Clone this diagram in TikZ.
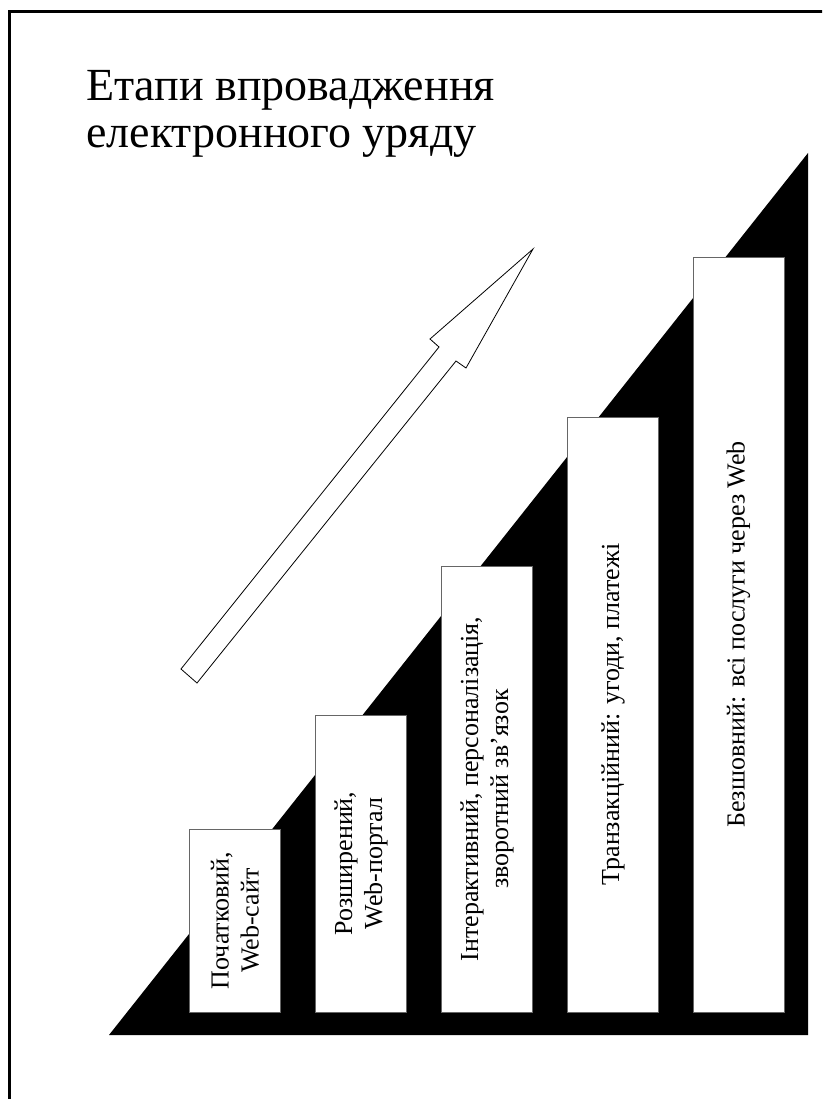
\documentclass[tikz,border=0pt]{standalone}
\usepackage{fontspec}
\setmainfont{Liberation Serif}
\begin{document}
\begin{tikzpicture}[x=1pt,y=-1pt,
  stage/.style={draw=black!60, line width=0.8pt, fill=white, rotate=90,
    inner sep=0pt, align=center, font=\fontsize{26}{30}\selectfont},
  heading/.style={anchor=base west, inner sep=0pt, font=\fontsize{46}{50}\selectfont},
  growth/.style={draw=black, line width=0.8pt, fill=white, line join=miter}]
\useasboundingbox (0,0) rectangle (822,1099);
\clip (0,0) rectangle (822,1099);
\fill[white] (0,0) rectangle (822,1099);

% slide frame (only left and top edges fall inside the page)
\draw[line width=2.5pt] (9.5,1110) -- (9.5,11.5) -- (830,11.5);

% title
\node[heading] (title1) at (86,101) {Етапи впровадження};
\node[heading] (title2) at (86,148) {електронного уряду};

% black staircase triangle
\fill[black] (109,1035) -- (808,153) -- (808,1035) -- cycle;

% stages, text running bottom to top
\node[stage, minimum width=183pt, minimum height=91pt] (stage1) at (235,920.5)
  {Початковий,\\Web-сайт};
\node[stage, minimum width=297pt, minimum height=91pt] (stage2) at (361,863.5)
  {Розширений,\\Web-портал};
\node[stage, minimum width=446pt, minimum height=91pt] (stage3) at (487,789)
  {Інтерактивний, персоналізація,\\зворотний зв’язок};
\node[stage, minimum width=595pt, minimum height=91pt] (stage4) at (613,714.5)
  {Транзакційний: угоди, платежі};
\node[stage, minimum width=755pt, minimum height=91pt] (stage5) at (738.5,634.5)
  {Безшовний: всі послуги через Web};

% hollow growth arrow
\draw[growth] (181,669) -- (439,347) -- (430,339) -- (533,249)
  -- (466,368) -- (456,361) -- (197,683) -- cycle;
\end{tikzpicture}
\end{document}
